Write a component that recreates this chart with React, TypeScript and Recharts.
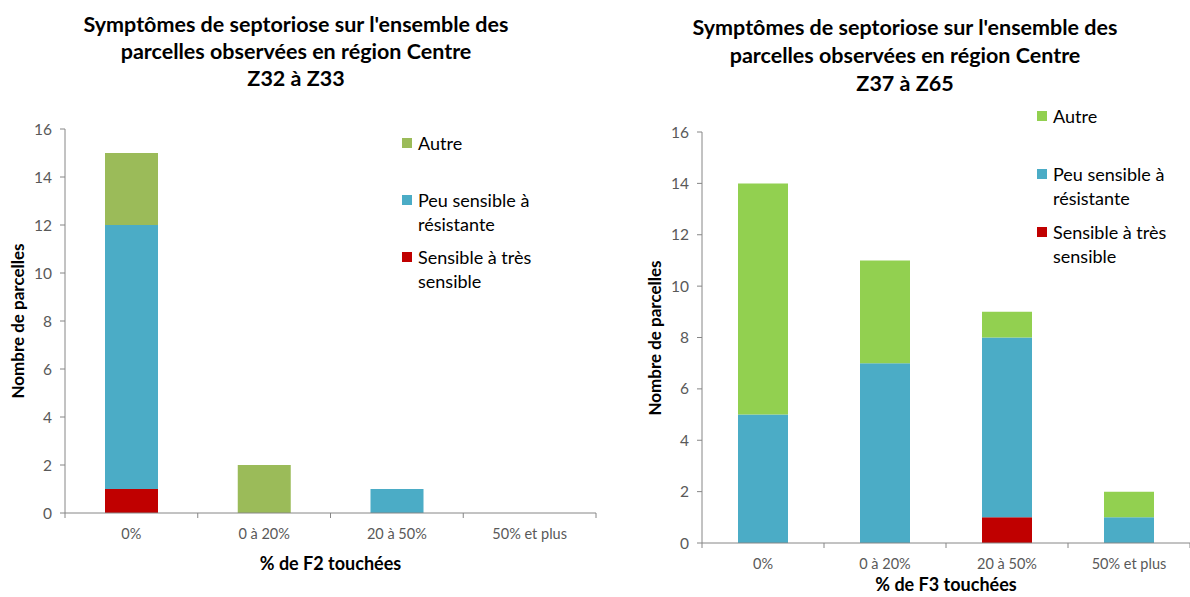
import React from 'react';
import { BarChart, Bar, XAxis, YAxis } from 'recharts';

const FONT = 'Lato, "Open Sans", "DejaVu Sans", sans-serif';

const categories = ['0%', '0 à 20%', '20 à 50%', '50% et plus'];
const yTicks = [0, 2, 4, 6, 8, 10, 12, 14, 16];

const seriesNames = ['Sensible à très sensible', 'Peu sensible à résistante', 'Autre'];

// Left chart: % de F2 touchées (Z32 à Z33)
const f2Sensible = [1, 0, 0, 0];
const f2Peu = [11, 0, 1, 0];
const f2Autre = [3, 2, 0, 0];

// Right chart: % de F3 touchées (Z37 à Z65)
const f3Sensible = [0, 0, 1, 0];
const f3Peu = [5, 7, 7, 1];
const f3Autre = [9, 4, 1, 1];

const RED = '#C00000';
const BLUE = '#4BACC6';
const GREEN_L = '#9BBB59';
const GREEN_R = '#92D050';
const AXIS = '#868686';

const buildData = (s: number[], p: number[], a: number[]) =>
  categories.map((c, i) => ({ cat: c, sensible: s[i], peu: p[i], autre: a[i] }));

const dataF2 = buildData(f2Sensible, f2Peu, f2Autre);
const dataF3 = buildData(f3Sensible, f3Peu, f3Autre);

function makeTick(halfBand: number, n: number) {
  return (props: any) => {
    const { x, y, payload, index } = props;
    const off = (payload && payload.offset) || halfBand;
    return (
      <g>
        <line x1={x - off} x2={x - off} y1={y} y2={y + 5} stroke={AXIS} />
        {index === n - 1 ? <line x1={x + off} x2={x + off} y1={y} y2={y + 5} stroke={AXIS} /> : null}
        <text x={x} y={y + 22} textAnchor="middle" dominantBaseline="middle" fill="#595959" fontSize={14.5} fontFamily={FONT}>
          {payload.value}
        </text>
      </g>
    );
  };
}

type PanelProps = {
  left: number;
  width: number;
  plotLeft: number;
  plotRight: number;
  plotTop: number;
  plotBottom: number;
  data: any[];
  green: string;
  barSize: number;
  title: string[];
  titleCenter: number;
  titleTop: number;
  titleLine: number;
  xTitle: string;
  xTitleY: number;
  yTitleX: number;
  legendLeft: number;
  legendTop: number;
  legendStep: number;
};

function Panel(p: PanelProps) {
  const H = 597;
  const xAxisH = 30;
  const halfBand = (p.plotRight - p.plotLeft) / categories.length / 2;
  const legendItems = [
    { name: 'Autre', lines: ['Autre'], color: p.green },
    { name: seriesNames[1], lines: ['Peu sensible à', 'résistante'], color: BLUE },
    { name: seriesNames[0], lines: ['Sensible à très', 'sensible'], color: RED },
  ];
  return (
    <div style={{ position: 'absolute', left: p.left, top: 0, width: p.width, height: H }}>
      <div
        style={{
          position: 'absolute',
          left: p.titleCenter - p.left - 300,
          width: 600,
          top: p.titleTop,
          textAlign: 'center',
          fontFamily: FONT,
          fontWeight: 700,
          fontSize: 21.5,
          lineHeight: p.titleLine + 'px',
          color: '#000',
        }}
      >
        {p.title.map((t, i) => (
          <div key={i}>{t}</div>
        ))}
      </div>
      <div style={{ position: 'absolute', left: 0, top: 0 }}>
        <BarChart
          width={p.width}
          height={H}
          data={p.data}
          margin={{ top: p.plotTop, right: p.width - p.plotRight, left: 0, bottom: H - p.plotBottom - xAxisH }}
        >
          <XAxis
            dataKey="cat"
            height={xAxisH}
            axisLine={{ stroke: AXIS }}
            tickLine={false}
            tickSize={0}
            tickMargin={0}
            interval={0}
            tick={makeTick(halfBand, categories.length)}
          />
          <YAxis
            width={p.plotLeft}
            domain={[0, 16]}
            ticks={yTicks}
            interval={0}
            allowDecimals={false}
            axisLine={{ stroke: AXIS }}
            tickLine={{ stroke: AXIS }}
            tickSize={5}
            tickMargin={8}
            tick={{ fill: '#595959', fontSize: 15.5, fontFamily: FONT }}
          />
          <Bar dataKey="sensible" stackId="a" fill={RED} barSize={p.barSize} isAnimationActive={false} name={seriesNames[0]} />
          <Bar dataKey="peu" stackId="a" fill={BLUE} barSize={p.barSize} isAnimationActive={false} name={seriesNames[1]} />
          <Bar dataKey="autre" stackId="a" fill={p.green} barSize={p.barSize} isAnimationActive={false} name={seriesNames[2]} />
        </BarChart>
      </div>
      <div
        style={{
          position: 'absolute',
          left: p.yTitleX - p.left - 150,
          top: (p.plotTop + p.plotBottom) / 2 - 12,
          width: 300,
          height: 24,
          lineHeight: '24px',
          textAlign: 'center',
          transform: 'rotate(-90deg)',
          fontFamily: FONT,
          fontWeight: 700,
          fontSize: 17,
          color: '#000',
        }}
      >
        Nombre de parcelles
      </div>
      <div
        style={{
          position: 'absolute',
          left: (p.plotLeft + p.plotRight) / 2 - 200,
          top: p.xTitleY - 8,
          width: 400,
          height: 16,
          lineHeight: '16px',
          textAlign: 'center',
          fontFamily: FONT,
          fontWeight: 700,
          fontSize: 18,
          color: '#000',
        }}
      >
        {p.xTitle}
      </div>
      <div style={{ position: 'absolute', left: p.legendLeft - p.left, top: p.legendTop, fontFamily: FONT, fontSize: 18, color: '#000' }}>
        {legendItems.map((it, i) => (
          <div key={i} style={{ position: 'relative', height: p.legendStep, whiteSpace: 'nowrap' }}>
            <div style={{ position: 'absolute', left: 0, top: 7, width: 10, height: 10, background: it.color }} />
            <div style={{ position: 'absolute', left: 16, top: 0, lineHeight: '24px' }}>
              {it.lines.map((l, j) => (
                <div key={j}>{l}</div>
              ))}
            </div>
          </div>
        ))}
      </div>
    </div>
  );
}

export default function App() {
  return (
    <div style={{ position: 'absolute', left: 0, top: 0, width: 1190, height: 597, background: '#fff', overflow: 'hidden' }}>
      <Panel
        left={0}
        width={600}
        plotLeft={65}
        plotRight={596}
        plotTop={129}
        plotBottom={513}
        data={dataF2}
        green={GREEN_L}
        barSize={53}
        title={["Symptômes de septoriose sur l'ensemble des", 'parcelles observées en région Centre', 'Z32 à Z33']}
        titleCenter={296}
        titleTop={11}
        titleLine={27}
        xTitle="% de F2 touchées"
        xTitleY={563}
        yTitleX={18}
        legendLeft={402}
        legendTop={131}
        legendStep={57}
      />
      <Panel
        left={600}
        width={590}
        plotLeft={102}
        plotRight={590}
        plotTop={132}
        plotBottom={543}
        data={dataF3}
        green={GREEN_R}
        barSize={50}
        title={["Symptômes de septoriose sur l'ensemble des", 'parcelles observées en région Centre', 'Z37 à Z65']}
        titleCenter={905}
        titleTop={13}
        titleLine={28}
        xTitle="% de F3 touchées"
        xTitleY={584}
        yTitleX={655}
        legendLeft={1037}
        legendTop={104}
        legendStep={58}
      />
    </div>
  );
}
